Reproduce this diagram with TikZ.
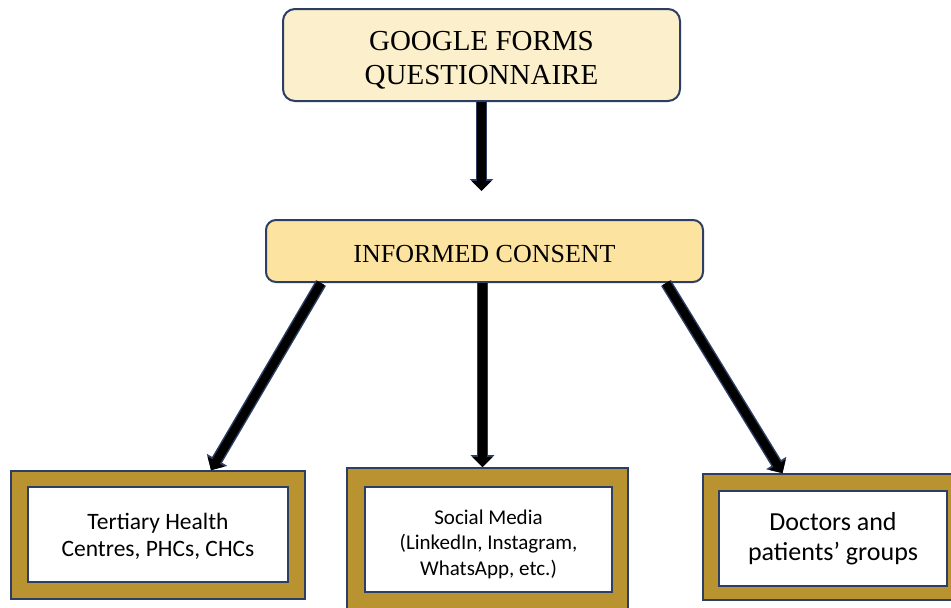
\documentclass[tikz,border=0pt]{standalone}
\usepackage{fontspec}
\setmainfont{Liberation Serif}
\newfontfamily\bodyfont{Carlito}
\usetikzlibrary{arrows.meta}

\definecolor{navy}{HTML}{2C3E63}
\definecolor{cream}{HTML}{FBF0CB}
\definecolor{sand}{HTML}{FCE3A0}
\definecolor{gold}{HTML}{B8932F}

\begin{document}
\begin{tikzpicture}[x=1pt, y=-1pt]
        \tikzset{stage/.style = {shape=rectangle, draw=navy, line width=2pt, rounded corners=12pt, inner sep=0pt, align=center},
                 frame/.style = {shape=rectangle, draw=navy, fill=gold, line width=1.6pt, inner sep=0pt},
                 card/.style = {shape=rectangle, draw=navy, fill=white, line width=1.6pt, inner sep=0pt, align=center},
                 flow/.style = {line width=8.5pt, black, -{Triangle[width=19pt,length=10pt]},
                                preaction={draw=navy, line width=11.5pt, -{Triangle[width=23pt,length=12pt]}}}}

        \clip (0, 0) rectangle (951, 608);
        \fill[white] (0, 0) rectangle (951, 608);

        % rounded boxes on top
        \node[stage, fill=cream, minimum width=397pt, minimum height=92pt,
              font=\fontsize{29}{34}\selectfont] (form) at (481.5, 55)
              {\rule{0pt}{30pt}GOOGLE FORMS\\QUESTIONNAIRE};
        \node[stage, fill=sand, rounded corners=10pt, minimum width=437pt, minimum height=62pt,
              font=\fontsize{26}{30}\selectfont] (consent) at (484.5, 251)
              {\rule{0pt}{23pt}INFORMED CONSENT};

        % gold frames
        \node[frame, minimum width=294pt, minimum height=128pt] (tertiary) at (158, 535) {};
        \node[frame, minimum width=281pt, minimum height=157pt] (social) at (487.5, 546.5) {};
        \node[frame, minimum width=259pt, minimum height=126pt] (groups) at (832.5, 537) {};

        % white cards inside the frames
        \node[card, minimum width=260pt, minimum height=95pt,
              font=\bodyfont\fontsize{23.5}{27.5}\selectfont] (t) at (158, 534.5)
              {\rule{0pt}{20pt}Tertiary Health\\Centres, PHCs, CHCs};
        \node[card, minimum width=247pt, minimum height=105pt,
              font=\bodyfont\fontsize{21}{25.5}\selectfont] (s) at (488.5, 539.5)
              {\rule{0pt}{24pt}Social Media\\(LinkedIn, Instagram,\\WhatsApp, etc.)};
        \node[card, minimum width=228pt, minimum height=95pt,
              font=\bodyfont\fontsize{26}{30}\selectfont] (g) at (833, 538.5)
              {Doctors and\\patients’ groups};

        \draw[flow, shorten >=28pt] (form.south) -- (form.south |- consent.north);
        \draw[flow] ([xshift=56pt]consent.south west) -- ([xshift=53pt]tertiary.north);
        \draw[flow] ([xshift=-2pt]consent.south) -- ([xshift=-2pt]consent.south |- social.north);
        \draw[flow] ([xshift=-38pt]consent.south east) -- ([xshift=-50pt]groups.north);

    \end{tikzpicture}
\end{document}
